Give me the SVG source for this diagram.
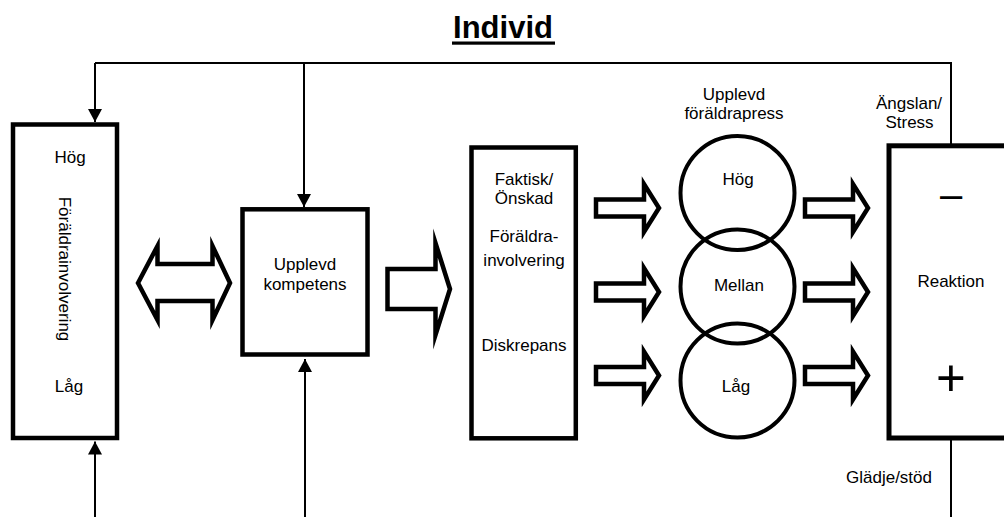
<svg xmlns="http://www.w3.org/2000/svg" width="1004" height="517" viewBox="0 0 1004 517">
<defs>
<style>
.t{font-family:"Liberation Sans",Arial,sans-serif;font-size:17px;fill:#000;text-anchor:middle}
.box{fill:#fff;stroke:#000;stroke-width:4.5}
.blk{fill:#fff;stroke:#000;stroke-width:4.5;stroke-linejoin:miter;stroke-miterlimit:10}
.circ{fill:none;stroke:#000;stroke-width:4}
.ln{fill:none;stroke:#000;stroke-width:2}
</style>
<marker id="ah" markerUnits="userSpaceOnUse" markerWidth="13" markerHeight="14" refX="13" refY="7" orient="auto">
<path d="M0,0 L13,7 L0,14 z" fill="#000"/>
</marker>
</defs>
<rect width="1004" height="517" fill="#fff"/>

<g id="title">
<text x="503" y="38" style="font-family:'Liberation Sans',Arial,sans-serif;font-size:31px;font-weight:bold;text-anchor:middle">Individ</text>
<rect x="452" y="41.5" width="103" height="3.2" fill="#000"/>
</g>

<g id="connectors">
<path class="ln" d="M95,63 H951 V144"/>
<line class="ln" x1="95" y1="63" x2="95" y2="122" marker-end="url(#ah)"/>
<line class="ln" x1="304" y1="63" x2="304" y2="207" marker-end="url(#ah)"/>
<line class="ln" x1="95" y1="517" x2="95" y2="441.5" marker-end="url(#ah)"/>
<line class="ln" x1="305" y1="517" x2="305" y2="359" marker-end="url(#ah)"/>
<line class="ln" x1="951" y1="440" x2="951" y2="517"/>
<polygon class="blk" points="138,283 157.5,246 157.5,264 212.5,264 212.5,246 230,283 212.5,320 212.5,301 157.5,301 157.5,320"/>
<polygon class="blk" points="387.5,269 435.5,269 435.5,243 450,289 435.5,335 435.5,309 387.5,309"/>
<polygon class="blk" points="596,199.5 644,199.5 644,184 659,208 644,232 644,216.5 596,216.5"/>
<polygon class="blk" points="596,283.5 644,283.5 644,268 659,292 644,316 644,300.5 596,300.5"/>
<polygon class="blk" points="596,367 644,367 644,351.5 659,375.5 644,399.5 644,384 596,384"/>
<polygon class="blk" points="805,199.5 853,199.5 853,184 868,208 853,232 853,216.5 805,216.5"/>
<polygon class="blk" points="805,283.5 853,283.5 853,268 868,292 853,316 853,300.5 805,300.5"/>
<polygon class="blk" points="805,367 853,367 853,351.5 868,375.5 853,399.5 853,384 805,384"/>
</g>

<g id="foraldrainvolvering">
<rect class="box" x="13" y="124.5" width="104" height="313.5"/>
<text class="t" x="70" y="163">Hög</text>
<text class="t" transform="translate(58.5,269) rotate(90)" x="0" y="0">Föräldrainvolvering</text>
<text class="t" x="69" y="392">Låg</text>
</g>

<g id="kompetens">
<rect class="box" x="242.5" y="209.3" width="125" height="145.2"/>
<text class="t" x="305" y="270">Upplevd</text>
<text class="t" x="305" y="290">kompetens</text>
</g>

<g id="diskrepans">
<rect class="box" x="471.5" y="147.5" width="104.3" height="290.8"/>
<text class="t" x="524" y="185">Faktisk/</text>
<text class="t" x="524" y="204">Önskad</text>
<text class="t" x="524" y="242">Föräldra-</text>
<text class="t" x="524" y="265.5">involvering</text>
<text class="t" x="524" y="350.5">Diskrepans</text>
</g>

<g id="foraldrapress">
<text class="t" x="734" y="100">Upplevd</text>
<text class="t" x="734" y="118.5">föräldrapress</text>
<circle class="circ" cx="737.5" cy="193" r="57"/>
<circle class="circ" cx="737.5" cy="286.5" r="57"/>
<circle class="circ" cx="737.5" cy="380.5" r="57"/>
<text class="t" x="738" y="185">Hög</text>
<text class="t" x="739" y="290.5">Mellan</text>
<text class="t" x="736" y="391.5">Låg</text>
</g>

<g id="reaktion">
<rect x="889" y="145.8" width="140" height="292.2" fill="#fff" stroke="#000" stroke-width="5"/>
<text class="t" x="909" y="109">Ängslan/</text>
<text class="t" x="909.5" y="128">Stress</text>
<text class="t" x="951" y="207.5" style="font-size:40px">–</text>
<text class="t" x="951" y="286.5">Reaktion</text>
<text class="t" x="951" y="396" style="font-size:51px">+</text>
<text class="t" x="889" y="482.5">Glädje/stöd</text>
</g>
</svg>
